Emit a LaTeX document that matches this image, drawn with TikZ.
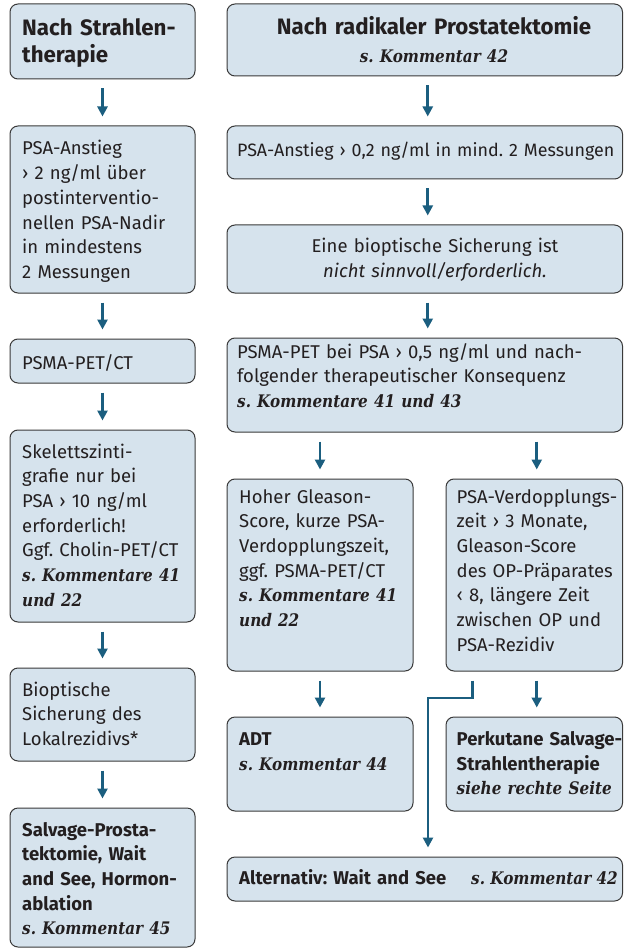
\documentclass[tikz,border=0pt]{standalone}
\usepackage{fontspec}
\setmainfont{Fira Sans}
\newfontfamily\cmtfont{DejaVu Serif}[FakeStretch=0.88]
\usetikzlibrary{arrows.meta,calc}

\definecolor{boxfill}{HTML}{D6E3ED}
\definecolor{boxline}{HTML}{3A3A3A}
\definecolor{arrowblue}{HTML}{1B5E7F}
\definecolor{ink}{HTML}{231F20}

% bold italic serif references to the commentary
\newcommand\kom[1]{{\cmtfont\fontsize{17.3}{24.7}\selectfont\bfseries\itshape #1}}

% rounded panel spanning (x1,y1)--(x2,y2)
\newcommand\panel[5]{%
  \node[box, minimum width={(#4-#2)*1pt}, minimum height={(#5-#3)*1pt}]
    (#1) at ({(#2+#4)/2},{(#3+#5)/2}) {};}

\tikzset{
  box/.style={draw=boxline, fill=boxfill, line width=1pt, rounded corners=8pt, inner sep=0pt},
  plain/.style={inner sep=0pt, text=ink, font=\fontsize{18.5}{24.7}\selectfont},
  txt/.style={plain, align=left, text width=390pt, anchor=base west},
  ctxt/.style={txt, align=center, anchor=base},
  ttl/.style={txt, font=\fontsize{22.3}{27}\selectfont\bfseries},
  flow/.style={draw=arrowblue, line width=2.6pt,
    -{Triangle[length=10pt,width=10pt]}, shorten <=9pt, shorten >=9pt},
}

\begin{document}
\frenchspacing
\begin{tikzpicture}[x=1pt, y=-1pt]
\useasboundingbox (0,0) rectangle (624,949);
\fill[white] (0,0) rectangle (624,949);

% ---------- left column: after radiotherapy ----------
\panel{s1}{10}{4}{195}{79}
\node[ttl] (s1t) at (22,36) {Nach Strahlen-\\therapie};
\panel{s2}{10}{126}{195}{293}
\node[txt] (s2t) at (22,155) {PSA-Anstieg\\› 2 ng/ml über\\postinterventio-\\nellen PSA-Nadir\\in mindestens\\2 Messungen};
\panel{s3}{10}{339}{195}{383}
\node[txt] (s3t) at (22,369) {PSMA-PET/CT};
\panel{s4}{10}{430}{195}{622}
\node[txt] (s4t) at (22,458) {Skelettszinti-\\grafie nur bei\\PSA › 10 ng/ml\\erforderlich!\\Ggf. Cholin-PET/CT\\\kom{s. Kommentare 41}\\\kom{und 22}};
\panel{s5}{10}{668}{195}{761}
\node[txt] (s5t) at (22,696) {Bioptische\\Sicherung des\\Lokalrezidivs*};
\panel{s6}{10}{808}{195}{947}
\node[txt] (s6t) at (22,836) {\textbf{Salvage-Prosta-}\\\textbf{tektomie, Wait}\\\textbf{and See, Hormon-}\\\textbf{ablation}\\\kom{s. Kommentar 45}};

\draw[flow] (s1) -- (s2);
\draw[flow] (s2) -- (s3);
\draw[flow] (s3) -- (s4);
\draw[flow] (s4) -- (s5);
\draw[flow] (s5) -- (s6);

% ---------- right column: after radical prostatectomy ----------
\panel{r1}{227}{4}{622.5}{76}
\node[ctxt, font=\fontsize{22.3}{27}\selectfont\bfseries] (r1t) at (434,35) {Nach radikaler Prostatektomie};
\node[ctxt] (r1c) at (434,62.7) {\kom{s. Kommentar 42}};
\panel{r2}{227}{126}{622.5}{179}
\node[txt, font=\fontsize{17.9}{24.7}\selectfont] (r2t) at (237,157) {PSA-Anstieg › 0,2 ng/ml in mind. 2 Messungen};
\panel{r3}{227}{225}{622.5}{293}
\node[ctxt] (r3t) at (435,252.5) {Eine bioptische Sicherung ist\\\textit{nicht sinnvoll/erforderlich.}};
\panel{r4}{227}{338}{622.5}{432}
\node[txt] (r4t) at (237,358) {PSMA-PET bei PSA › 0,5 ng/ml und nach-\\folgender therapeutischer Konsequenz\\\kom{s. Kommentare 41 und 43}};
\panel{r5}{227}{479}{413}{671}
\node[txt] (r5t) at (239,503) {Hoher Gleason-\\Score, kurze PSA-\\Verdopplungszeit,\\ggf. PSMA-PET/CT\\\kom{s. Kommentare 41}\\\kom{und 22}};
\panel{r6}{446}{479}{622.5}{671}
\node[txt] (r6t) at (456.5,503) {PSA-Verdopplungs-\\zeit › 3 Monate,\\Gleason-Score\\des OP-Präparates\\‹ 8, längere Zeit\\zwischen OP und\\PSA-Rezidiv};
\panel{r7}{227}{717}{413}{811}
\node[txt] (r7t) at (239,745.5) {\textbf{ADT}\\\kom{s. Kommentar 44}};
\panel{r8}{446}{717}{622.5}{811}
\node[txt] (r8t) at (456.5,745.5) {\textbf{Perkutane Salvage-}\\\textbf{Strahlentherapie}\\\kom{siehe rechte Seite}};
\panel{r9}{227}{857}{622.5}{901}
\node[txt] (r9t) at (239,884) {\textbf{Alternativ: Wait and See}};
\node[plain, anchor=base east] (r9c) at (618,884) {\kom{s. Kommentar 42}};

\draw[flow] ([xshift=3pt]r1.south) -- ([xshift=3pt]r2.north);
\draw[flow] ([xshift=3pt]r2.south) -- ([xshift=3pt]r3.north);
\draw[flow] ([xshift=3pt]r3.south) -- ([xshift=3pt]r4.north);
\draw[flow] (r4.south -| r5.north) -- (r5.north);
\draw[flow] ([xshift=2.5pt]r4.south -| r6.north) -- ([xshift=2.5pt]r6.north);
\draw[flow] (r5) -- (r7);
\draw[flow] ([xshift=2.5pt]r6.south) -- ([xshift=2.5pt]r8.north);
\coordinate (bend) at (428,698);
\draw[flow] ([xshift=-62pt]r6.south) |- (bend) -- (bend |- r9.north);
\end{tikzpicture}
\end{document}
